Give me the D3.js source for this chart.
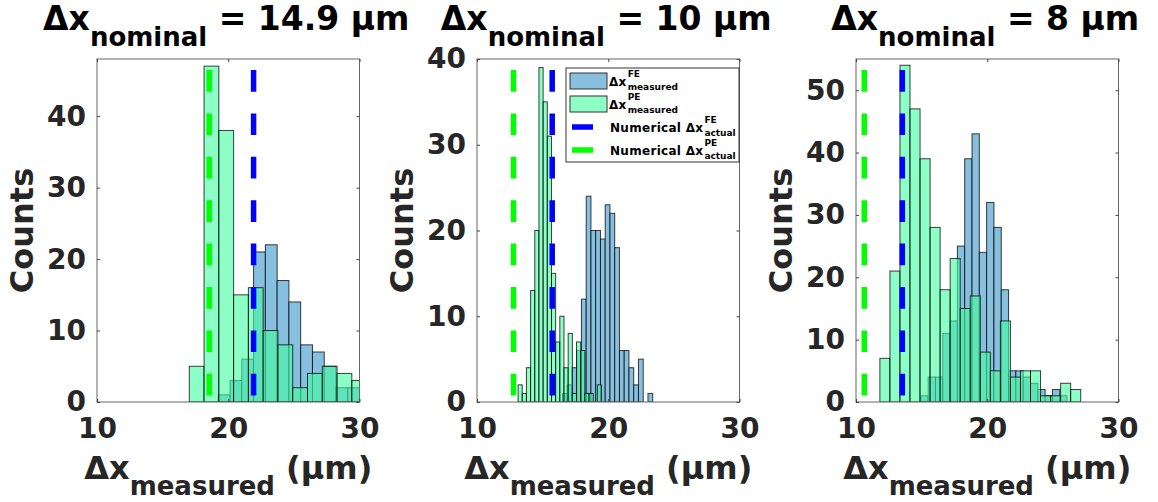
<!DOCTYPE html>
<html>
<head>
<meta charset="utf-8">
<script src="https://cdn.jsdelivr.net/npm/d3@7"></script>
<style>
  body { margin: 0; background: #fff; }
  svg { display: block; font-family: "DejaVu Sans", sans-serif; font-weight: bold; }
</style>
</head>
<body>
<div id="chart"></div>
<script>
const width = 1158;
const height = 502;

// nominal spacing shown in each title
const nominal = ["14.9", "10", "8"];

// histogram bins: first edge and bin width (µm), counts per bin
const feStart = [19.24, 16.51, 14.94];
const feWidth = [0.897, 0.362, 0.557];
const feCounts = [
  [1, 3, 6, 21, 22, 17, 14, 8, 7, 5, 2, 2],
  [1, 2, 4, 6, 12, 24, 20, 20, 19, 23, 22, 18, 6, 6, 4, 2, 5, 0, 1],
  [1, 4, 4, 11, 13, 25, 39, 43, 24, 32, 28, 18, 5, 5, 4, 3, 2, 1, 2, 1]
];
const peStart = [17.03, 13.13, 11.82];
const peWidth = [1.126, 0.318, 0.765];
const peCounts = [
  [5, 47, 38, 15, 16, 10, 8, 2, 4, 5, 4, 3],
  [2, 1, 4, 13, 20, 39, 35, 31, 15, 7, 10, 4, 8, 1, 7, 6, 1, 1, 0, 2],
  [7, 21, 54, 47, 39, 28, 18, 23, 15, 17, 8, 5, 13, 4, 5, 5, 1, 1, 3, 2]
];

// numerical actual spacing (dashed lines)
const feActual = [21.93, 15.73, 13.53];
const peActual = [18.55, 12.78, 10.63];

const yMax = [48, 40, 55];
const yTicks = [[0, 10, 20, 30, 40], [0, 10, 20, 30, 40], [0, 10, 20, 30, 40, 50]];
const xDomain = [10, 30];
const xTicks = [10, 20, 30];

const feColor = "#87bfdf";
const peColor = "#41ffa0";
const textColor = "#262626";

const panelLeft = [97, 477, 856];
const panelW = 262.5;
const plotTop = 59;
const plotBottom = 402;

const svg = d3.select("#chart")
  .append("svg")
  .attr("width", width)
  .attr("height", height);

function bins(start, w, counts) {
  return counts.map(function(c, i) {
    return { x0: start + i * w, x1: start + (i + 1) * w, count: c };
  });
}

panelLeft.forEach(function(left, p) {
  const x = d3.scaleLinear().domain(xDomain).range([left, left + panelW]);
  const y = d3.scaleLinear().domain([0, yMax[p]]).range([plotBottom, plotTop]);
  const cx = left + panelW / 2;

  const g = svg.append("g");

  svg.append("clipPath")
    .attr("id", "clip" + p)
    .append("rect")
    .attr("x", left)
    .attr("y", plotTop)
    .attr("width", panelW)
    .attr("height", plotBottom - plotTop);

  const plot = g.append("g").attr("clip-path", "url(#clip" + p + ")");

  // FE histogram
  plot.selectAll(".fe")
    .data(bins(feStart[p], feWidth[p], feCounts[p]).filter(function(d) { return d.count > 0; }))
    .enter()
    .append("rect")
    .attr("x", function(d) { return x(d.x0); })
    .attr("y", function(d) { return y(d.count); })
    .attr("width", function(d) { return x(d.x1) - x(d.x0); })
    .attr("height", function(d) { return y(0) - y(d.count); })
    .attr("fill", feColor)
    .attr("stroke", "#000")
    .attr("stroke-opacity", 0.75)
    .attr("stroke-width", 1);

  // PE histogram on top, see-through
  plot.selectAll(".pe")
    .data(bins(peStart[p], peWidth[p], peCounts[p]).filter(function(d) { return d.count > 0; }))
    .enter()
    .append("rect")
    .attr("x", function(d) { return x(d.x0); })
    .attr("y", function(d) { return y(d.count); })
    .attr("width", function(d) { return x(d.x1) - x(d.x0); })
    .attr("height", function(d) { return y(0) - y(d.count); })
    .attr("fill", peColor)
    .attr("fill-opacity", 0.6)
    .attr("stroke", "#000")
    .attr("stroke-opacity", 0.75)
    .attr("stroke-width", 1);

  // dashed numerical lines
  [[feActual[p], "#0000ff"], [peActual[p], "#00ff00"]].forEach(function(l) {
    plot.append("line")
      .attr("x1", x(l[0]))
      .attr("x2", x(l[0]))
      .attr("y1", y(yMax[p]))
      .attr("y2", y(0))
      .attr("stroke", l[1])
      .attr("stroke-width", 5.5)
      .attr("stroke-dasharray", "21.7 21.7")
      .attr("stroke-dashoffset", 32.4);
  });

  // axes box
  g.append("rect")
    .attr("x", left)
    .attr("y", plotTop)
    .attr("width", panelW)
    .attr("height", plotBottom - plotTop)
    .attr("fill", "none")
    .attr("stroke", "#666")
    .attr("stroke-width", 1);

  const xAxis = g.append("g")
    .attr("transform", "translate(0," + plotBottom + ")")
    .call(d3.axisBottom(x).tickValues(xTicks).tickSize(-3).tickPadding(16).tickFormat(d3.format("d")));
  const yAxis = g.append("g")
    .attr("transform", "translate(" + left + ",0)")
    .call(d3.axisLeft(y).tickValues(yTicks[p]).tickSize(-3).tickPadding(11).tickFormat(d3.format("d")));
  g.append("g")
    .attr("transform", "translate(0," + plotTop + ")")
    .call(d3.axisTop(x).tickValues(xTicks).tickSize(-3).tickFormat(""));
  g.append("g")
    .attr("transform", "translate(" + (left + panelW) + ",0)")
    .call(d3.axisRight(y).tickValues(yTicks[p]).tickSize(-3).tickFormat(""));

  g.selectAll(".domain").remove();
  g.selectAll(".tick line").attr("stroke", "#444");
  [xAxis, yAxis].forEach(function(a) {
    a.attr("font-family", "DejaVu Sans")
      .attr("font-size", 28)
      .attr("font-weight", "bold");
    a.selectAll("text").attr("fill", textColor);
  });

  // title
  const title = g.append("text")
    .attr("x", cx - 2)
    .attr("y", 30)
    .attr("text-anchor", "middle")
    .attr("fill", "#000")
    .attr("font-size", 33);
  title.append("tspan").text("Δx");
  title.append("tspan").attr("font-size", 26).attr("dy", 16).text("nominal");
  title.append("tspan").attr("dy", -16).text(" = " + nominal[p] + " μm");

  // x label
  const xl = g.append("text")
    .attr("x", cx)
    .attr("y", 479)
    .attr("text-anchor", "middle")
    .attr("fill", textColor)
    .attr("font-size", 32);
  xl.append("tspan").text("Δx");
  xl.append("tspan").attr("font-size", 26).attr("dy", 16).text("measured");
  xl.append("tspan").attr("dy", -16).text(" (μm)");

  // y label
  g.append("text")
    .attr("transform", "translate(" + (left - 64) + "," + ((plotTop + plotBottom) / 2) + ") rotate(-90)")
    .attr("text-anchor", "middle")
    .attr("fill", textColor)
    .attr("font-size", 32)
    .text("Counts");
});

// legend in the middle panel
const leg = svg.append("g");
leg.append("rect")
  .attr("x", 566)
  .attr("y", 68)
  .attr("width", 173)
  .attr("height", 94)
  .attr("fill", "#fff")
  .attr("stroke", "#333")
  .attr("stroke-width", 1);

const legendItems = [
  { kind: "patch", color: feColor, opacity: 1, pre: "", sup: "FE", sub: "measured", cy: 81 },
  { kind: "patch", color: peColor, opacity: 0.6, pre: "", sup: "PE", sub: "measured", cy: 104 },
  { kind: "line", color: "#0000ff", pre: "Numerical ", sup: "FE", sub: "actual", cy: 127 },
  { kind: "line", color: "#00ff00", pre: "Numerical ", sup: "PE", sub: "actual", cy: 150 }
];

legendItems.forEach(function(d) {
  if (d.kind === "patch") {
    leg.append("rect")
      .attr("x", 570)
      .attr("y", d.cy - 8)
      .attr("width", 37)
      .attr("height", 16)
      .attr("fill", d.color)
      .attr("fill-opacity", d.opacity)
      .attr("stroke", "#333");
  } else {
    leg.append("line")
      .attr("x1", 572)
      .attr("x2", 593)
      .attr("y1", d.cy)
      .attr("y2", d.cy)
      .attr("stroke", d.color)
      .attr("stroke-width", 5.5);
  }
  const tx = d.kind === "patch" ? 609 : 610;
  const main = leg.append("text")
    .attr("x", tx)
    .attr("y", d.cy + 5)
    .attr("font-size", 12)
    .attr("letter-spacing", 0.3)
    .attr("fill", "#000")
    .text(d.pre + "Δx");
  const w = main.node().getComputedTextLength();
  leg.append("text")
    .attr("x", tx + w + 1)
    .attr("y", d.cy - 4)
    .attr("font-size", 9)
    .attr("fill", "#000")
    .text(d.sup);
  leg.append("text")
    .attr("x", tx + w + 1)
    .attr("y", d.cy + 9)
    .attr("font-size", 9)
    .attr("fill", "#000")
    .text(d.sub);
});
</script>
</body>
</html>
